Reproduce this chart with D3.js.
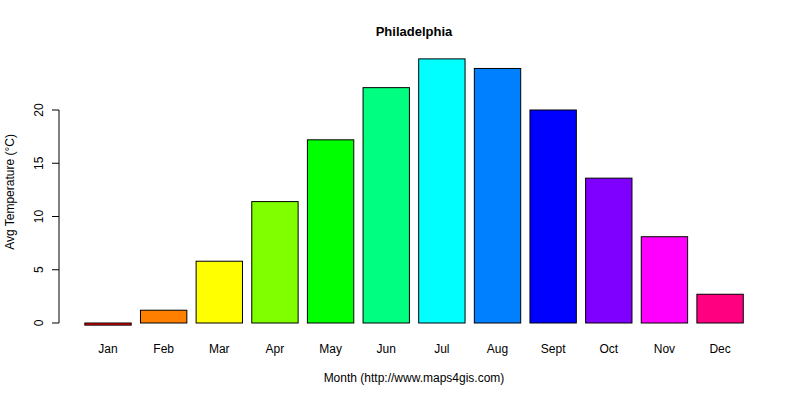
<!DOCTYPE html>
<html>
<head>
<meta charset="UTF-8">
<script src="https://d3js.org/d3.v7.min.js"></script>
<style>
  body { margin: 0; background: #fff; }
  text { font-family: "Liberation Sans", Arial, sans-serif; }
</style>
</head>
<body>
<script>
var months = ['Jan','Feb','Mar','Apr','May','Jun','Jul','Aug','Sept','Oct','Nov','Dec']
var temps = [-0.2, 1.2, 5.8, 11.4, 17.2, 22.1, 24.8, 23.9, 20.0, 13.6, 8.1, 2.7]
var colors = ['#FF0000','#FF8000','#FFFF00','#80FF00','#00FF00','#00FF80','#00FFFF','#0080FF','#0000FF','#8000FF','#FF00FF','#FF0080']
var yTicks = [0, 5, 10, 15, 20]

var svg = d3.select('body').append('svg').attr('width', 800).attr('height', 400)

var x = d3.scaleBand().domain(months).range([80.2, 747.9])
  .paddingInner(1/6).paddingOuter(1/12)
var y = d3.scaleLinear().domain([0, 20]).range([323, 110])

svg.selectAll('rect').data(temps).enter().append('rect')
  .attr('x', function (d, i) { return x(months[i]) })
  .attr('y', function (d) { return y(Math.max(0, d)) })
  .attr('width', x.bandwidth())
  .attr('height', function (d) { return Math.abs(y(d) - y(0)) })
  .attr('fill', function (d, i) { return colors[i] })
  .attr('stroke', '#000').attr('stroke-width', 1)

// y axis
var ga = svg.append('g').attr('transform', 'translate(59,0)')
ga.append('line').attr('y1', y(0)).attr('y2', y(20)).attr('stroke', '#000')
ga.selectAll('line.t').data(yTicks).enter().append('line').attr('class', 't')
  .attr('x1', 0).attr('x2', -7).attr('y1', y).attr('y2', y).attr('stroke', '#000')
ga.selectAll('text').data(yTicks).enter().append('text')
  .attr('transform', function (d) { return 'translate(-16,' + y(d) + ') rotate(-90)' })
  .attr('text-anchor', 'middle').attr('font-size', 12).text(function (d) { return d })

svg.selectAll('text.xl').data(months).enter().append('text').attr('class', 'xl')
  .attr('x', function (d) { return x(d) + x.bandwidth() / 2 }).attr('y', 353)
  .attr('text-anchor', 'middle').attr('font-size', 12).text(function (d) { return d })

svg.append('text').attr('x', 414).attr('y', 36).attr('text-anchor', 'middle')
  .attr('font-size', 13).attr('font-weight', 'bold').text('Philadelphia')
svg.append('text').attr('x', 414).attr('y', 382).attr('text-anchor', 'middle')
  .attr('font-size', 12).text('Month (http://www.maps4gis.com)')
svg.append('text').attr('transform', 'translate(14,192) rotate(-90)')
  .attr('text-anchor', 'middle').attr('font-size', 12).text('Avg Temperature (°C)')
</script>
</body>
</html>
